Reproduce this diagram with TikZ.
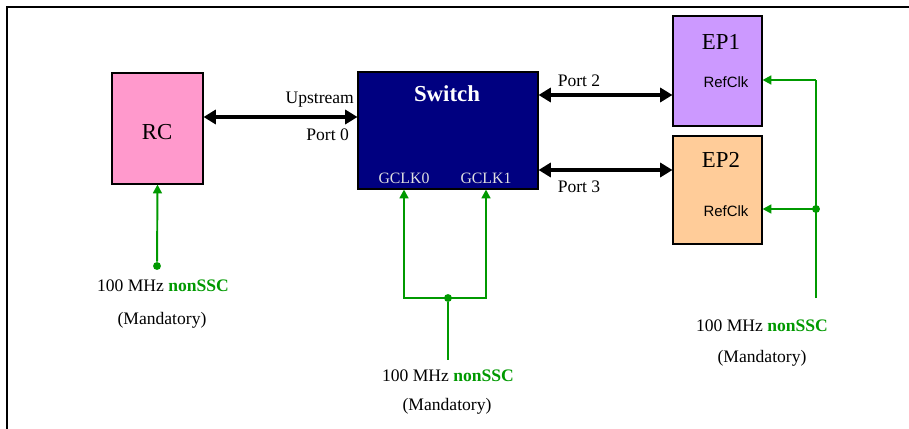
\documentclass[tikz,border=0pt]{standalone}
\usepackage{fontspec}
\setmainfont{Liberation Serif}
\setsansfont{Liberation Sans}
\usepackage{xcolor}
\usetikzlibrary{arrows.meta,positioning,calc}
\definecolor{RCPink}{HTML}{FF99CC}
\definecolor{SwNavy}{HTML}{000080}
\definecolor{EPLilac}{HTML}{CC99FF}
\definecolor{EPPeach}{HTML}{FFCC99}
\definecolor{ClkGreen}{HTML}{009900}
\definecolor{LGray}{HTML}{E0E0E0}
\newcommand{\clkspec}{100 MHz \textbf{\textcolor{ClkGreen}{nonSSC}}}

\begin{document}
\begin{tikzpicture}[
  x=0.02cm, y=-0.02cm,
  font=\small,
  blk/.style={draw=black, line width=0.6pt, inner sep=0pt},
  bus/.style={{Triangle[length=7pt,width=8pt]}-{Triangle[length=7pt,width=8pt]}, line width=2.8pt},
  clk/.style={ClkGreen, line width=1.1pt},
  clkarr/.style={clk, -{Triangle[length=5pt,width=5pt]}},
  dot/.style={circle, fill=ClkGreen, inner sep=0pt, minimum size=4.5pt},
  plbl/.style={font=\normalsize, inner sep=1pt},
  gclk/.style={font=\fontsize{9}{11}\selectfont, text=LGray, inner sep=0pt},
  rclk/.style={font=\sffamily\fontsize{8.5}{10}\selectfont, inner sep=0pt},
  big/.style={font=\fontsize{13}{15}\selectfont, inner sep=0pt}
]
  \useasboundingbox (0,0) rectangle (909,429);
  % frame
  \draw[line width=1.2pt] (7,429) -- (7,7) -- (909,7);

  % blocks
  \node[blk, fill=RCPink, minimum width=1.82cm, minimum height=2.22cm] (rc) at (157.5,128.5) {};
  \node[big] at (157,132) {RC};
  \node[blk, fill=SwNavy, minimum width=3.6cm, minimum height=2.34cm] (sw) at (448,130.5) {};
  \node[big, text=white, font=\fontsize{13}{15}\selectfont\bfseries] (swl) at (447,94) {Switch};
  \node[gclk] (g0) at (404,178) {GCLK0};
  \node[gclk] (g1) at (486,178) {GCLK1};
  \node[blk, fill=EPLilac, minimum width=1.78cm, minimum height=2.2cm] (ep1) at (717.5,71) {};
  \node[big] at (721,42) {EP1};
  \node[rclk] at (726,82) {RefClk};
  \node[blk, fill=EPPeach, minimum width=1.78cm, minimum height=2.16cm] (ep2) at (717.5,190) {};
  \node[big] at (721,160) {EP2};
  \node[rclk] at (726,211) {RefClk};

  % links
  \coordinate (p0) at (280,117);
  \coordinate (p2) at (600,95);
  \coordinate (p3) at (600,170);
  \draw[bus] (rc.east |- p0) -- (sw.west |- p0);
  \draw[bus] (sw.east |- p2) -- (ep1.west |- p2);
  \draw[bus] (sw.east |- p3) -- (ep2.west |- p3);
  \node[plbl, anchor=east] at (356,100) {Upstream};
  \node[plbl, anchor=east] at (351,135) {Port 0};
  \node[plbl] at (579,81) {Port 2};
  \node[plbl] at (579,187) {Port 3};

  % RC clock
  \node[dot] (rcd) at (157,266) {};
  \draw[clkarr] (rcd) -- (rc.south);
  \node[plbl] (rcf) at (163,286) {\clkspec};
  \node[plbl] at (162,320) {(Mandatory)};

  % switch clocks
  \node[dot] (swd) at (448,298) {};
  \coordinate (swe) at (448,360);
  \draw[clkarr] (swd.center) -| (g0.south |- sw.south);
  \draw[clkarr] (swd.center) -| (g1.south |- sw.south);
  \draw[clk] (swd) -- (swe);
  \node[plbl] at (448,376) {\clkspec};
  \node[plbl] at (447,406) {(Mandatory)};

  % endpoint clocks
  \node[dot] (epd) at (816,209) {};
  \coordinate (ept) at (816,80);
  \coordinate (epe) at (816,298);
  \draw[clk] (epe) -- (ept);
  \draw[clkarr, line width=1.6pt] (ept) -- (ep1.east |- ept);
  \draw[clkarr] (epd.center) -- (ep2.east |- epd);
  \node[plbl] at (762,326) {\clkspec};
  \node[plbl] at (762,358) {(Mandatory)};
\end{tikzpicture}
\end{document}
